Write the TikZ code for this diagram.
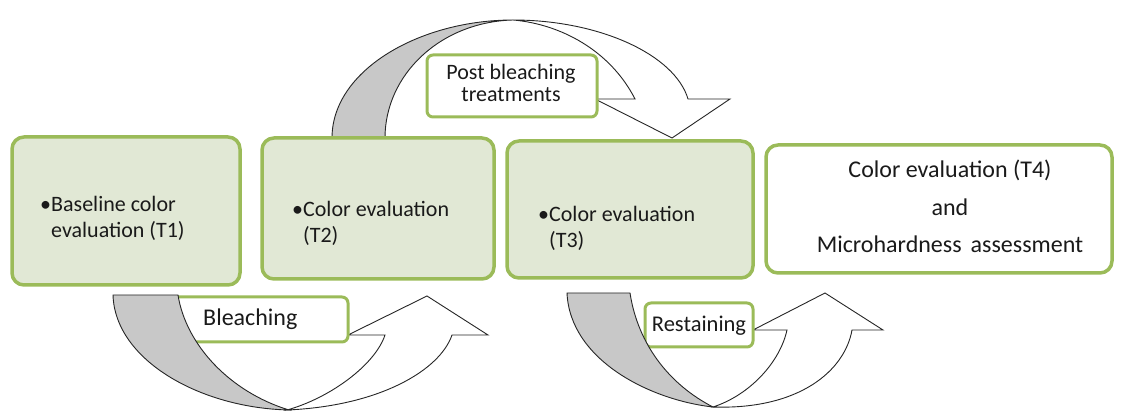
\documentclass[tikz,border=0pt]{standalone}
\usepackage{fontspec}
\setmainfont{Carlito}
\definecolor{bgreen}{HTML}{9BBB59}
\definecolor{bfill}{HTML}{E1E8D5}
\definecolor{agray}{HTML}{C8C8C8}
\definecolor{txtc}{HTML}{1A1A1A}
\tikzset{
  box/.style={draw=bgreen, line width=3.5pt, rounded corners=12pt, fill=bfill, inner sep=0pt},
  wbox/.style={box, fill=white},
  lbl/.style={draw=bgreen, line width=3pt, rounded corners=6pt, fill=white, inner sep=0pt},
  arrw/.style={draw=black!85, line width=0.9pt, line join=miter, fill=white},
  arrg/.style={draw=black!85, line width=0.9pt, line join=miter, fill=agray},
  tx/.style={text=txtc, inner sep=0pt, font=\fontsize{22}{26}\selectfont, align=left},
}
\begin{document}
\begin{tikzpicture}[x=1pt,y=-1pt]
\useasboundingbox (0,0) rectangle (1122,411);

% ---- top curved arrow (post bleaching)
\path[arrw] (513,20) .. controls (600,20) and (675,55) .. (688,99)
  -- (730,99) -- (672,138) -- (595,99) -- (635,99)
  .. controls (610,50) and (560,24) .. (513,20) -- cycle;
\path[arrg] (332,138) .. controls (332,70) and (420,20) .. (513,20)
  .. controls (440,22) and (385,75) .. (385,138) -- cycle;
\node[lbl, minimum width=170pt, minimum height=62pt] (post) at (512,86) {};
\node[tx, align=center, font=\fontsize{22}{22}\selectfont, anchor=base] (postt) at (511,102) {Post bleaching\\treatments};

% ---- bleaching arrow
\path[arrw] (287,410) .. controls (380,406) and (440,370) .. (452,335)
  -- (488,335) -- (427,296) -- (348,335) -- (385,335)
  .. controls (375,365) and (330,398) .. (287,410) -- cycle;
\node[lbl, minimum width=180pt, minimum height=45pt] (bl) at (258,319.5) {};
\node[tx, font=\fontsize{24}{26}\selectfont, anchor=base west] (blt) at (203,326) {Bleaching};
\path[arrg] (113,295) -- (178,295) .. controls (186,345) and (230,392) .. (289,410)
  .. controls (200,408) and (115,360) .. (113,295) -- cycle;

% ---- restaining arrow
\path[arrw] (713,407) .. controls (800,410) and (845,370) .. (852,330)
  -- (883,330) -- (825,293) -- (753,330) -- (787,330)
  .. controls (780,362) and (750,395) .. (713,407) -- cycle;
\node[lbl, minimum width=108pt, minimum height=44pt] (rs) at (699,325) {};
\node[tx, font=\fontsize{22.5}{26}\selectfont, anchor=base] (rst) at (699,332) {Restaining};
\path[arrg] (567,293) -- (630,293) .. controls (638,345) and (670,385) .. (713,407)
  .. controls (650,400) and (570,360) .. (567,293) -- cycle;

% ---- main boxes
\node[box, minimum width=228pt, minimum height=148pt] (b1) at (126,211) {};
\node[box, minimum width=232pt, minimum height=141pt] (b2) at (378,208.5) {};
\node[box, minimum width=246pt, minimum height=137pt] (b3) at (630,209.5) {};
\node[wbox, minimum width=346pt, minimum height=128pt] (b4) at (939,209) {};

\node[tx, anchor=base west] (t1) at (40,238) {•Baseline color\\\phantom{•}evaluation (T1)};
\node[tx, anchor=base west] (t2) at (292,243) {•Color evaluation\\\phantom{•}(T2)};
\node[tx, anchor=base west] (t3) at (538,248) {•Color evaluation\\\phantom{•}(T3)};
\node[tx, align=center, font=\fontsize{24}{37.5}\selectfont, anchor=base] (t4) at (950,253)
  {Color evaluation (T4)\\and\\Microhardness\hspace{0.15em} assessment};
\end{tikzpicture}
\end{document}
